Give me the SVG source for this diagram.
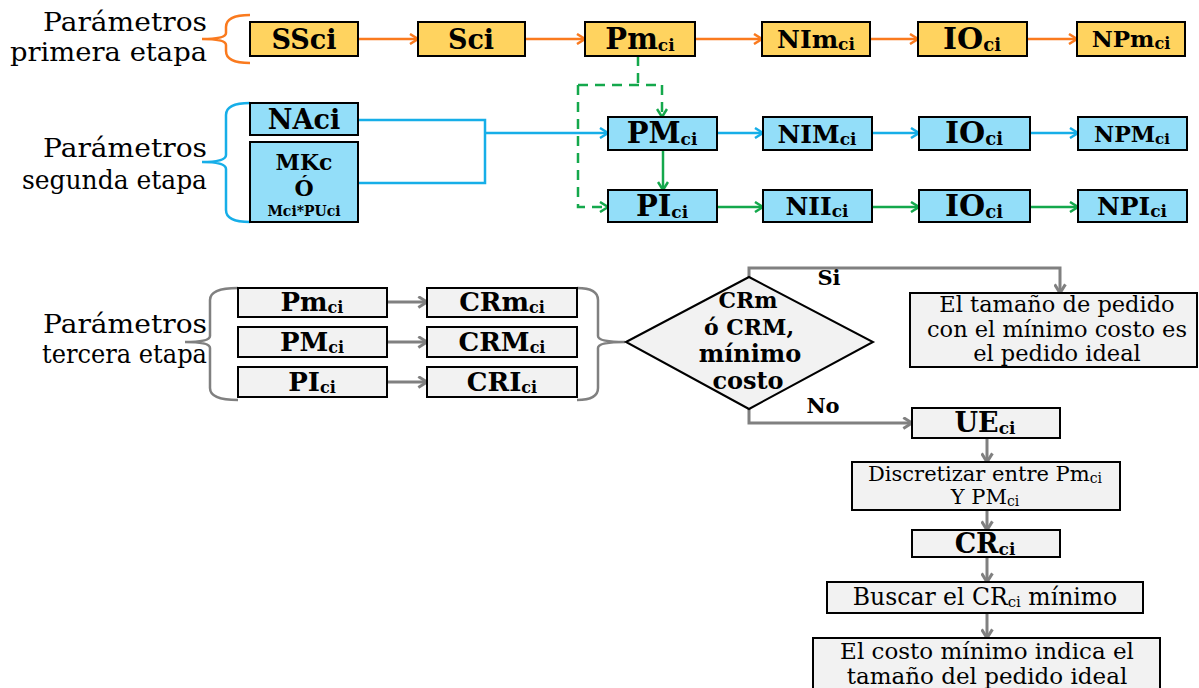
<svg xmlns="http://www.w3.org/2000/svg" width="1199" height="688" viewBox="0 0 1199 688">
  <style>
    .lbl { font-family: "DejaVu Serif", "Liberation Serif", serif; font-size: 26px; fill: #000; text-anchor: end; }
    .bt { font-family: "DejaVu Serif", "Liberation Serif", serif; font-weight: bold; fill: #000; text-anchor: middle; }
    .nt { font-family: "DejaVu Serif", "Liberation Serif", serif; fill: #000; text-anchor: middle; }
    .org { fill: #FFD35F; stroke: #000; stroke-width: 2; }
    .blu { fill: #93DEF9; stroke: #000; stroke-width: 2; }
    .gry { fill: #F2F2F2; stroke: #000; stroke-width: 2; }
    .c-o { fill: none; stroke: #FA7A1E; stroke-width: 2.5; }
    .c-b { fill: none; stroke: #16AEE8; stroke-width: 2.5; }
    .c-g { fill: none; stroke: #14A84C; stroke-width: 2.5; }
    .c-gd { fill: none; stroke: #14A84C; stroke-width: 2.5; stroke-dasharray: 10 7; }
    .c-k { fill: none; stroke: #808080; stroke-width: 3; }
  </style>
  <defs>
    <marker id="aO" viewBox="0 0 12 12" refX="10" refY="6" markerWidth="12" markerHeight="12" markerUnits="userSpaceOnUse" orient="auto">
      <path d="M2,1 L10,6 L2,11" fill="none" stroke="#FA7A1E" stroke-width="2.5"/>
    </marker>
    <marker id="aB" viewBox="0 0 12 12" refX="10" refY="6" markerWidth="12" markerHeight="12" markerUnits="userSpaceOnUse" orient="auto">
      <path d="M2,1 L10,6 L2,11" fill="none" stroke="#16AEE8" stroke-width="2.5"/>
    </marker>
    <marker id="aG" viewBox="0 0 12 12" refX="10" refY="6" markerWidth="12" markerHeight="12" markerUnits="userSpaceOnUse" orient="auto">
      <path d="M2,1 L10,6 L2,11" fill="none" stroke="#14A84C" stroke-width="2.5"/>
    </marker>
    <marker id="aK" viewBox="0 0 12 12" refX="10" refY="6" markerWidth="13" markerHeight="13" markerUnits="userSpaceOnUse" orient="auto">
      <path d="M2,1 L10,6 L2,11" fill="none" stroke="#808080" stroke-width="2.8"/>
    </marker>
  </defs>

  <!-- stage labels and braces -->
  <g id="stage1-label">
    <text class="lbl" x="207" y="31" textLength="164" lengthAdjust="spacingAndGlyphs">Parámetros</text>
    <text class="lbl" x="207" y="61" textLength="197" lengthAdjust="spacingAndGlyphs">primera etapa</text>
    <path d="M250,15 Q226,15 226,27 L226,33 Q226,39 202,39 Q226,39 226,45 L226,51 Q226,63 250,63" fill="none" stroke="#FA7A1E" stroke-width="2.5"/>
  </g>
  <g id="stage2-label">
    <text class="lbl" x="207" y="157" textLength="164" lengthAdjust="spacingAndGlyphs">Parámetros</text>
    <text class="lbl" x="207" y="189" textLength="185" lengthAdjust="spacingAndGlyphs">segunda etapa</text>
    <path d="M250,103 Q226,103 226,115 L226,155 Q226,162 202,162 Q226,162 226,169 L226,210 Q226,222 250,222" fill="none" stroke="#16AEE8" stroke-width="2.5"/>
  </g>
  <g id="stage3-label">
    <text class="lbl" x="207" y="333" textLength="164" lengthAdjust="spacingAndGlyphs">Parámetros</text>
    <text class="lbl" x="207" y="363" textLength="165" lengthAdjust="spacingAndGlyphs">tercera etapa</text>
    <path d="M238,288 Q210,288 210,300 L210,336 Q210,342 185,342 Q210,342 210,348 L210,388 Q210,400 238,400" fill="none" stroke="#808080" stroke-width="2.5"/>
    <path d="M577,288 Q598,288 598,300 L598,336 Q598,342 625,342 Q598,342 598,348 L598,388 Q598,400 577,400" fill="none" stroke="#808080" stroke-width="2.5"/>
  </g>

  <!-- connectors -->
  <g id="connectors">
    <!-- first stage -->
    <line class="c-o" x1="358" y1="39" x2="418" y2="39" marker-end="url(#aO)"/>
    <line class="c-o" x1="525" y1="39" x2="585" y2="39" marker-end="url(#aO)"/>
    <line class="c-o" x1="695" y1="39" x2="762" y2="39" marker-end="url(#aO)"/>
    <line class="c-o" x1="870" y1="39" x2="918" y2="39" marker-end="url(#aO)"/>
    <line class="c-o" x1="1027" y1="39" x2="1077" y2="39" marker-end="url(#aO)"/>
    <!-- dashed link from Pm to the second stage -->
    <path class="c-gd" d="M638,56 V85"/>
    <path class="c-gd" d="M578,85 H662"/>
    <path class="c-gd" d="M662,85 V117" marker-end="url(#aG)"/>
    <path class="c-gd" d="M578,85 V207 H608" marker-end="url(#aG)"/>
    <!-- second stage -->
    <path class="c-b" d="M358,120 H485 V183 H358"/>
    <line class="c-b" x1="485" y1="133" x2="608" y2="133" marker-end="url(#aB)"/>
    <line class="c-b" x1="717" y1="133" x2="763" y2="133" marker-end="url(#aB)"/>
    <line class="c-b" x1="872" y1="133" x2="919" y2="133" marker-end="url(#aB)"/>
    <line class="c-b" x1="1030" y1="133" x2="1078" y2="133" marker-end="url(#aB)"/>
    <line class="c-g" x1="663" y1="150" x2="663" y2="190" marker-end="url(#aG)"/>
    <line class="c-g" x1="717" y1="207" x2="763" y2="207" marker-end="url(#aG)"/>
    <line class="c-g" x1="872" y1="207" x2="919" y2="207" marker-end="url(#aG)"/>
    <line class="c-g" x1="1030" y1="207" x2="1078" y2="207" marker-end="url(#aG)"/>
    <!-- third stage -->
    <line class="c-k" x1="387" y1="302" x2="427" y2="302" marker-end="url(#aK)"/>
    <line class="c-k" x1="387" y1="342" x2="427" y2="342" marker-end="url(#aK)"/>
    <line class="c-k" x1="387" y1="382" x2="427" y2="382" marker-end="url(#aK)"/>
    <path class="c-k" d="M749,277 V268 H1060 V293" marker-end="url(#aK)"/>
    <path class="c-k" d="M749,409 V423 H912" marker-end="url(#aK)"/>
    <line class="c-k" x1="987" y1="438" x2="987" y2="462" marker-end="url(#aK)"/>
    <line class="c-k" x1="987" y1="510" x2="987" y2="530" marker-end="url(#aK)"/>
    <line class="c-k" x1="987" y1="557" x2="987" y2="582" marker-end="url(#aK)"/>
    <line class="c-k" x1="987" y1="613" x2="987" y2="638" marker-end="url(#aK)"/>
    <text class="bt" x="829" y="285" font-size="21">Si</text>
    <text class="bt" x="823" y="413" font-size="21">No</text>
  </g>

  <!-- first stage nodes -->
  <g id="n-SSci"><rect class="org" x="250" y="22" width="108" height="34"/><text class="bt" x="304" y="49" font-size="27">SSci</text></g>
  <g id="n-Sci"><rect class="org" x="418" y="22" width="107" height="34"/><text class="bt" x="471" y="49" font-size="27">Sci</text></g>
  <g id="n-Pm"><rect class="org" x="585" y="22" width="110" height="34"/><text class="bt" x="640" y="49" font-size="29">Pm<tspan font-size="17" dy="2">ci</tspan></text></g>
  <g id="n-NIm"><rect class="org" x="762" y="22" width="108" height="34"/><text class="bt" x="816" y="48" font-size="25">NIm<tspan font-size="17" dy="2">ci</tspan></text></g>
  <g id="n-IO1"><rect class="org" x="918" y="22" width="109" height="34"/><text class="bt" x="972" y="49" font-size="30">IO<tspan font-size="18" dy="2">ci</tspan></text></g>
  <g id="n-NPm"><rect class="org" x="1077" y="22" width="108" height="34"/><text class="bt" x="1131" y="47" font-size="23">NPm<tspan font-size="16" dy="2">ci</tspan></text></g>

  <!-- second stage nodes -->
  <g id="n-NAci"><rect class="blu" x="250" y="103" width="108" height="32"/><text class="bt" x="304" y="129" font-size="27">NAci</text></g>
  <g id="n-MKc"><rect class="blu" x="250" y="142" width="108" height="80"/>
    <text class="bt" x="304" y="170" font-size="22">MKc</text>
    <text class="bt" x="304" y="196" font-size="22">Ó</text>
    <text class="bt" x="304" y="216" font-size="14">Mci*PUci</text>
  </g>
  <g id="n-PM"><rect class="blu" x="608" y="117" width="109" height="33"/><text class="bt" x="662" y="143" font-size="29">PM<tspan font-size="17" dy="2">ci</tspan></text></g>
  <g id="n-NIM"><rect class="blu" x="763" y="117" width="109" height="33"/><text class="bt" x="817" y="143" font-size="25">NIM<tspan font-size="17" dy="2">ci</tspan></text></g>
  <g id="n-IO2"><rect class="blu" x="919" y="117" width="111" height="33"/><text class="bt" x="974" y="143" font-size="30">IO<tspan font-size="18" dy="2">ci</tspan></text></g>
  <g id="n-NPM"><rect class="blu" x="1078" y="117" width="109" height="33"/><text class="bt" x="1132" y="142" font-size="22">NPM<tspan font-size="15" dy="2">ci</tspan></text></g>
  <g id="n-PI"><rect class="blu" x="608" y="190" width="109" height="32"/><text class="bt" x="662" y="216" font-size="29">PI<tspan font-size="17" dy="2">ci</tspan></text></g>
  <g id="n-NII"><rect class="blu" x="763" y="190" width="109" height="32"/><text class="bt" x="817" y="215" font-size="25">NII<tspan font-size="17" dy="2">ci</tspan></text></g>
  <g id="n-IO3"><rect class="blu" x="919" y="190" width="111" height="32"/><text class="bt" x="974" y="216" font-size="30">IO<tspan font-size="18" dy="2">ci</tspan></text></g>
  <g id="n-NPI"><rect class="blu" x="1078" y="190" width="109" height="32"/><text class="bt" x="1132" y="215" font-size="25">NPI<tspan font-size="17" dy="2">ci</tspan></text></g>

  <!-- third stage nodes -->
  <g id="n-Pm3"><rect class="gry" x="238" y="288" width="149" height="29"/><text class="bt" x="312" y="311" font-size="26">Pm<tspan font-size="16" dy="2">ci</tspan></text></g>
  <g id="n-PM3"><rect class="gry" x="238" y="327" width="149" height="30"/><text class="bt" x="312" y="351" font-size="26">PM<tspan font-size="16" dy="2">ci</tspan></text></g>
  <g id="n-PI3"><rect class="gry" x="238" y="367" width="149" height="30"/><text class="bt" x="312" y="391" font-size="26">PI<tspan font-size="16" dy="2">ci</tspan></text></g>
  <g id="n-CRm"><rect class="gry" x="427" y="288" width="150" height="29"/><text class="bt" x="502" y="311" font-size="26">CRm<tspan font-size="16" dy="2">ci</tspan></text></g>
  <g id="n-CRM"><rect class="gry" x="427" y="327" width="150" height="30"/><text class="bt" x="502" y="351" font-size="26">CRM<tspan font-size="16" dy="2">ci</tspan></text></g>
  <g id="n-CRI"><rect class="gry" x="427" y="367" width="150" height="30"/><text class="bt" x="502" y="391" font-size="26">CRI<tspan font-size="16" dy="2">ci</tspan></text></g>

  <g id="n-decision">
    <polygon class="gry" points="626,342 749,277 873,342 749,409"/>
    <text class="bt" x="748" y="308" font-size="22">CRm</text>
    <text class="bt" x="749" y="335" font-size="22">ó CRM,</text>
    <text class="bt" x="750" y="362" font-size="24">mínimo</text>
    <text class="bt" x="748" y="389" font-size="24">costo</text>
  </g>
  <g id="n-ideal"><rect class="gry" x="910" y="293" width="287" height="74"/>
    <text class="nt" x="1057" y="312" font-size="22.5">El tamaño de pedido</text>
    <text class="nt" x="1057" y="337" font-size="22.5">con el mínimo  costo es</text>
    <text class="nt" x="1057" y="361" font-size="22.5">el pedido ideal</text>
  </g>
  <g id="n-UE"><rect class="gry" x="912" y="408" width="148" height="30"/><text class="bt" x="985" y="432" font-size="27">UE<tspan font-size="17" dy="2">ci</tspan></text></g>
  <g id="n-disc"><rect class="gry" x="852" y="462" width="268" height="48"/>
    <text class="nt" x="985" y="481" font-size="21">Discretizar entre Pm<tspan font-size="14" dy="2">ci</tspan></text>
    <text class="nt" x="985" y="504" font-size="21">Y PM<tspan font-size="14" dy="2">ci</tspan></text>
  </g>
  <g id="n-CR"><rect class="gry" x="912" y="530" width="148" height="27"/><text class="bt" x="985" y="553" font-size="27">CR<tspan font-size="17" dy="2">ci</tspan></text></g>
  <g id="n-buscar"><rect class="gry" x="827" y="582" width="316" height="31"/><text class="nt" x="985" y="605" font-size="23.5">Buscar el CR<tspan font-size="15" dy="2">ci</tspan><tspan dy="-2"> mínimo</tspan></text></g>
  <g id="n-final"><rect class="gry" x="813" y="638" width="347" height="52"/>
    <text class="nt" x="987" y="659" font-size="23">El costo mínimo indica el</text>
    <text class="nt" x="987" y="684" font-size="23">tamaño del pedido ideal</text>
  </g>
</svg>
